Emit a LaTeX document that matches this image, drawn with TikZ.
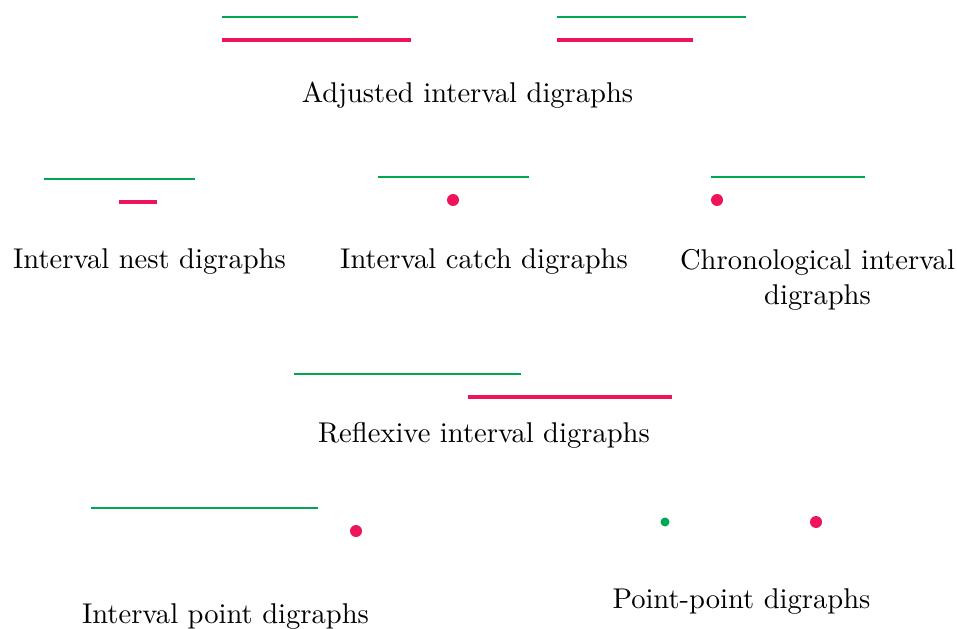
\documentclass[tikz,border=0pt]{standalone}
\definecolor{ivgreen}{RGB}{0,166,81}
\definecolor{ivred}{RGB}{237,20,90}
\tikzset{
  greenbar/.style={draw=ivgreen, line width=0.9pt},
  redbar/.style={draw=ivred, line width=1.6pt},
  reddot/.style={fill=ivred},
  greendot/.style={fill=ivgreen},
  caption/.style={anchor=base, inner sep=0pt, font=\normalsize},
}
\begin{document}
\begin{tikzpicture}[x=0.35pt, y=-0.35pt]
\useasboundingbox (0,0) rectangle (957,628);

% Adjusted interval digraphs
\draw[greenbar] (222,17) -- (358,17);
\draw[redbar]   (222,40) -- (411,40);
\draw[greenbar] (557,17) -- (746,17);
\draw[redbar]   (557,40) -- (693,40);
\node[caption] (adj) at (467.5,103) {Adjusted interval digraphs};

% Interval nest digraphs
\draw[greenbar] (44,179) -- (195,179);
\draw[redbar]   (119,202) -- (157,202);
\node[caption] (nest) at (149.5,269) {Interval nest digraphs};

% Interval catch digraphs
\draw[greenbar] (378,177) -- (529,177);
\fill[reddot] (453,200) circle (6);
\node[caption] (catch) at (484,269) {Interval catch digraphs};

% Chronological interval digraphs (base anchor sits on the last line)
\draw[greenbar] (711,177) -- (865,177);
\fill[reddot] (717,200) circle (6);
\node[caption, align=center] (chrono) at (817.5,304) {Chronological interval\\digraphs};

% Reflexive interval digraphs
\draw[greenbar] (294,374) -- (521,374);
\draw[redbar]   (468,397) -- (672,397);
\node[caption] (refl) at (484,442) {Reflexive interval digraphs};

% Interval point digraphs
\draw[greenbar] (91,508) -- (318,508);
\fill[reddot] (356,531) circle (6);
\node[caption] (ipoint) at (225.5,623) {Interval point digraphs};

% Point-point digraphs
\fill[greendot] (665,522) circle (4.5);
\fill[reddot] (816,522) circle (6);
\node[caption] (pp) at (741.5,608) {Point-point digraphs};
\end{tikzpicture}
\end{document}
